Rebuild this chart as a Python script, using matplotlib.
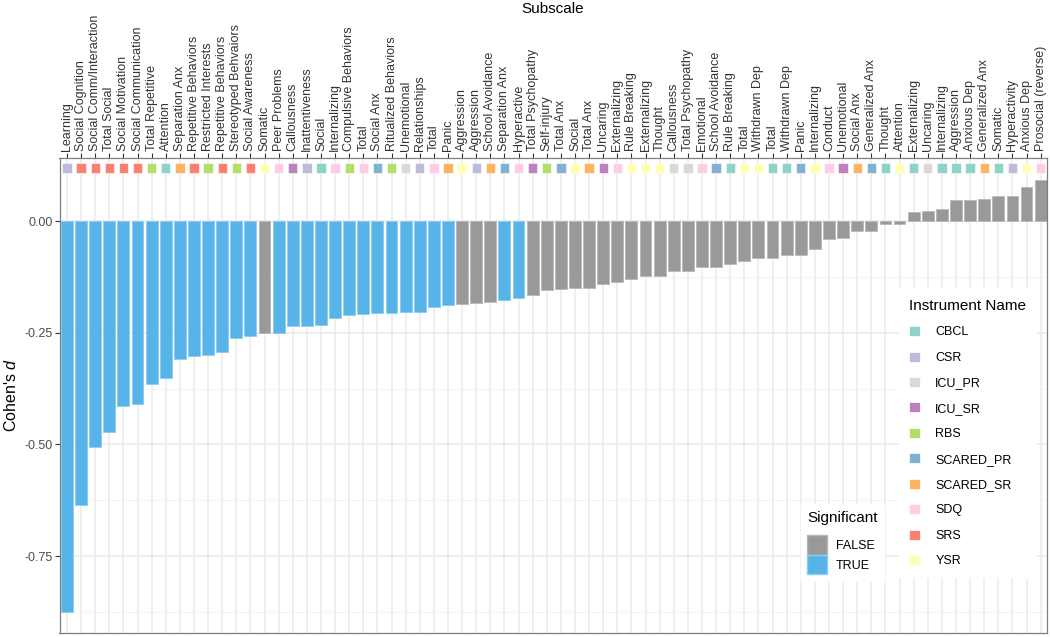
import matplotlib
matplotlib.use('Agg')
import matplotlib.pyplot as plt
from matplotlib.patches import Patch
import numpy as np

plt.rcParams['font.family'] = ['Liberation Sans', 'DejaVu Sans']
plt.rcParams['mathtext.fontset'] = 'custom'
plt.rcParams['mathtext.rm'] = 'Liberation Sans'
plt.rcParams['mathtext.it'] = 'Liberation Sans:italic'

# subscales, ordered by effect size
subscales = [
    "Learning", "Social Cognition", "Social Comm/Interaction", "Total Social",
    "Social Motivation", "Social Communication", "Total Repetitive", "Attention",
    "Separation Anx", "Repetitive Behaviors", "Restricted Interests",
    "Repetitive Behaviors", "Stereotyped Behvaiors", "Social Awareness", "Somatic",
    "Peer Problems", "Callousness", "Inattentiveness", "Social", "Internalizing",
    "Compulsive Behaviors", "Total", "Social Anx", "Ritualized Behaviors",
    "Unemotional", "Relationships", "Total", "Panic", "Aggression", "Aggression",
    "School Avoidance", "Separation Anx", "Hyperactive", "Total Psychopathy",
    "Self-injury", "Total Anx", "Social", "Total Anx", "Uncaring", "Externalizing",
    "Rule Breaking", "Externalizing", "Thought", "Callousness", "Total Psychopathy",
    "Emotional", "School Avoidance", "Rule Breaking", "Total", "Withdrawn Dep",
    "Total", "Withdrawn Dep", "Panic", "Internalizing", "Conduct", "Unemotional",
    "Social Anx", "Generalized Anx", "Thought", "Attention", "Externalizing",
    "Uncaring", "Internalizing", "Aggression", "Anxious Dep", "Generalized Anx",
    "Somatic", "Hyperactivity", "Anxious Dep", "Prosocial (reverse)",
]

instruments = [
    "CSR", "SRS", "SRS", "SRS", "SRS", "SRS", "RBS", "CBCL", "SCARED_SR", "SRS",
    "RBS", "SRS", "RBS", "SRS", "YSR", "SDQ", "ICU_SR", "CSR", "CBCL", "SDQ",
    "RBS", "SDQ", "SCARED_PR", "RBS", "ICU_PR", "CSR", "SDQ", "SCARED_SR", "YSR", "CSR",
    "SCARED_SR", "SCARED_PR", "SDQ", "ICU_SR", "RBS", "SCARED_PR", "YSR", "SCARED_SR", "ICU_SR", "SDQ",
    "YSR", "YSR", "YSR", "ICU_PR", "ICU_PR", "SDQ", "SCARED_PR", "CBCL", "YSR", "YSR",
    "CBCL", "CBCL", "SCARED_PR", "YSR", "SDQ", "ICU_SR", "SCARED_SR", "SCARED_PR", "CBCL", "YSR",
    "CBCL", "ICU_PR", "CBCL", "CBCL", "CBCL", "SCARED_SR", "CBCL", "CSR", "YSR", "SDQ",
]

cohens_d = [
    -0.875, -0.635, -0.505, -0.472, -0.413, -0.410, -0.365, -0.352, -0.309, -0.301,
    -0.300, -0.293, -0.262, -0.257, -0.251, -0.250, -0.235, -0.235, -0.233, -0.216,
    -0.210, -0.207, -0.206, -0.205, -0.204, -0.203, -0.192, -0.187, -0.185, -0.183,
    -0.181, -0.177, -0.172, -0.166, -0.154, -0.153, -0.151, -0.150, -0.141, -0.136,
    -0.129, -0.124, -0.122, -0.113, -0.112, -0.104, -0.104, -0.096, -0.089, -0.082,
    -0.082, -0.077, -0.077, -0.063, -0.041, -0.037, -0.022, -0.022, -0.007, -0.006,
    0.021, 0.023, 0.027, 0.046, 0.048, 0.049, 0.057, 0.057, 0.077, 0.092,
]

significant = [True] * 14 + [False] + [True] * 13 + [False] * 3 + [True] * 2 + [False] * 37

instrument_names = ["CBCL", "CSR", "ICU_PR", "ICU_SR", "RBS",
                    "SCARED_PR", "SCARED_SR", "SDQ", "SRS", "YSR"]
instrument_colors = ["#8DD3C7", "#BEBADA", "#D9D9D9", "#BC80BD", "#B3DE69",
                     "#80B1D3", "#FDB462", "#FCCDE5", "#FB8072", "#FFFFB3"]
inst_col = dict(zip(instrument_names, instrument_colors))
sig_col = {False: "#999999", True: "#56B4E9"}
sig_edge = {False: "#B8B8B8", True: "#8CCDF0"}

fig = plt.figure(figsize=(10.5, 6.37), dpi=100)
ax = fig.add_axes([59.5 / 1050, 1 - 633 / 637, (1047 - 59.5) / 1050, (633 - 158) / 637])

x = np.arange(len(subscales))

# grid
for v in [-0.875, -0.625, -0.375, -0.125]:
    ax.axhline(v, color="#F2F2F2", lw=0.6, zorder=0)
for v in [0, -0.25, -0.5, -0.75]:
    ax.axhline(v, color="#EBEBEB", lw=1.1, zorder=0)
for xi in x:
    ax.axvline(xi, color="#EBEBEB", lw=1.1, zorder=0)

ax.bar(x, cohens_d, width=0.84,
       color=[sig_col[s] for s in significant],
       edgecolor=[sig_edge[s] for s in significant], linewidth=0.6, zorder=2)

# instrument tiles
ax.bar(x, 0.022, bottom=0.108, width=0.66,
       color=[inst_col[i] for i in instruments],
       edgecolor="white", linewidth=0.4, zorder=2)

ax.set_xlim(-0.53, len(x) - 0.55)
ax.set_ylim(-0.922, 0.141)

ax.xaxis.tick_top()
ax.set_xticks(x)
ax.set_xticklabels(subscales, rotation=90, fontsize=9, color="#333333")
ax.set_yticks([0, -0.25, -0.5, -0.75])
ax.set_yticklabels(["0.00", "-0.25", "-0.50", "-0.75"], fontsize=9, color="#4D4D4D")
ax.tick_params(axis="both", length=3.6, width=0.8, color="#333333", pad=1.5)

for sp in ax.spines.values():
    sp.set_color("#7F7F7F")
    sp.set_linewidth(0.9)

ax.set_ylabel("Cohen's $d$", fontsize=11.5)
ax.yaxis.set_label_coords(-0.041, 0.5)
fig.text(553 / 1050, 1 - 9 / 637, "Subscale", ha="center", va="center", fontsize=11)

# legends
inst_handles = [Patch(facecolor=c, edgecolor="white", linewidth=0.5) for c in instrument_colors]
leg1 = ax.legend(inst_handles, instrument_names, title="Instrument Name",
                 loc="upper left", bbox_to_anchor=(899 / 1050, 1 - 289 / 637),
                 bbox_transform=fig.transFigure, fontsize=9, title_fontsize=11,
                 frameon=True, fancybox=False, edgecolor="white", framealpha=1,
                 handlelength=0.85, handleheight=0.85, handletextpad=1.25,
                 labelspacing=1.05, borderpad=0.8, borderaxespad=0, alignment="left")
leg1.set_zorder(5)
ax.add_artist(leg1)

sig_handles = [Patch(facecolor=sig_col[False], edgecolor=sig_edge[False]),
               Patch(facecolor=sig_col[True], edgecolor=sig_edge[True])]
leg2 = ax.legend(sig_handles, ["FALSE", "TRUE"], title="Significant",
                 loc="upper left", bbox_to_anchor=(801 / 1050, 1 - 505 / 637),
                 bbox_transform=fig.transFigure, fontsize=9, title_fontsize=11,
                 frameon=True, fancybox=False, edgecolor="white", framealpha=1,
                 handlelength=1.6, handleheight=2.05, handletextpad=0.7,
                 labelspacing=0.0, borderpad=0.5, borderaxespad=0, alignment="left")
leg2.set_zorder(5)
leg2._legend_box.sep = 7

fig.savefig("out.png", dpi=100)
